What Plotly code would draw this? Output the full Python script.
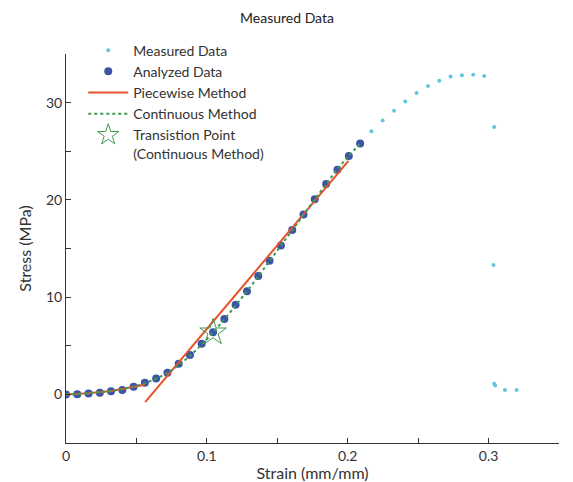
import plotly.graph_objects as go

# Measured data (strain, stress)
measured_strain = [0.0, 0.008, 0.016, 0.024, 0.032, 0.040, 0.048, 0.056, 0.064, 0.072,
                   0.080, 0.088, 0.0963, 0.1044, 0.1124, 0.1204, 0.1285, 0.1365, 0.1445,
                   0.1526, 0.1606, 0.1686, 0.1766, 0.1847, 0.1927, 0.2008, 0.2088,
                   0.2168, 0.2248, 0.2329, 0.2409, 0.2489, 0.2570, 0.2650, 0.2730,
                   0.2811, 0.2891, 0.2969, 0.3040, 0.3035, 0.3040, 0.3047, 0.3116, 0.3199]
measured_stress = [0.0, 0.02, 0.10, 0.17, 0.31, 0.44, 0.79, 1.20, 1.64, 2.22,
                   3.14, 4.06, 5.20, 6.38, 7.75, 9.21, 10.61, 12.18, 13.75,
                   15.32, 16.89, 18.50, 20.06, 21.63, 23.10, 24.50, 25.80,
                   27.05, 28.15, 29.17, 30.12, 30.98, 31.70, 32.24, 32.68,
                   32.82, 32.86, 32.75, 27.50, 13.30, 1.10, 0.92, 0.44, 0.44]

# Analyzed data
analyzed_strain = measured_strain[:27]
analyzed_stress = measured_stress[:27]

# Piecewise method: toe region and linear region
piece1_strain = [0.0, 0.016, 0.032, 0.048, 0.056]
piece1_stress = [0.0, 0.12, 0.35, 0.72, 0.98]
piece2_strain = [0.0562, 0.2005]
piece2_stress = [-0.80, 24.0]

# Continuous method fit
cont_strain = [0.0, 0.008, 0.016, 0.024, 0.032, 0.040, 0.048, 0.056, 0.064, 0.072,
               0.080, 0.088, 0.0963, 0.1044, 0.1124, 0.1204, 0.1285, 0.1365, 0.1445,
               0.1526, 0.1606, 0.1686, 0.1766, 0.1847, 0.1927, 0.2008, 0.2088]
cont_stress = [0.0, 0.04, 0.12, 0.22, 0.36, 0.54, 0.80, 1.16, 1.62, 2.22,
               3.00, 3.96, 5.12, 6.38, 7.72, 9.14, 10.60, 12.14, 13.72,
               15.30, 16.88, 18.46, 20.04, 21.62, 23.18, 24.52, 25.80]

# Transition point
trans_strain = [0.1044]
trans_stress = [6.38]

font_family = "Lato, 'Open Sans', sans-serif"
txt_color = "#333333"

fig = go.Figure()
fig.add_trace(go.Scatter(x=measured_strain, y=measured_stress, mode="markers",
                         name="Measured Data",
                         marker=dict(color="#62c6df", size=4)))
fig.add_trace(go.Scatter(x=analyzed_strain, y=analyzed_stress, mode="markers",
                         name="Analyzed Data",
                         marker=dict(color="#3a55a8", size=8)))
fig.add_trace(go.Scatter(x=piece1_strain, y=piece1_stress, mode="lines",
                         name="Piecewise Method", legendgroup="pw",
                         line=dict(color="#e8532b", width=2)))
fig.add_trace(go.Scatter(x=piece2_strain, y=piece2_stress, mode="lines",
                         name="Piecewise Method", legendgroup="pw", showlegend=False,
                         line=dict(color="#e8532b", width=2)))
fig.add_trace(go.Scatter(x=cont_strain, y=cont_stress, mode="lines",
                         name="Continuous Method",
                         line=dict(color="#3f9a4f", width=2, dash="dot", shape="spline")))
fig.add_trace(go.Scatter(x=trans_strain, y=trans_stress, mode="markers",
                         name="Transistion Point<br>(Continuous Method)",
                         marker=dict(symbol="star-open", size=20,
                                     color="#3f9a4f", line=dict(width=1, color="#3f9a4f"))))

xt = [0, 0.05, 0.1, 0.15, 0.2, 0.25, 0.3, 0.35]
xt_text = ["0", "", "0.1", "", "0.2", "", "0.3", ""]
yt = [-5, 0, 5, 10, 15, 20, 25, 30, 35]
yt_text = ["", "0", "", "10", "", "20", "", "30", ""]

# page body has an 8px margin: figure is 565x474 so that the plot area
# lands at x 66..559, y 54..443 in the 573x482 window
fig.update_layout(
    width=565, height=474,
    margin=dict(l=58, r=14, t=46, b=39, autoexpand=False),
    paper_bgcolor="white", plot_bgcolor="white",
    font=dict(family=font_family, size=14, color=txt_color),
    title=dict(text="Measured Data", x=(287 - 8) / 565, xanchor="center",
               y=1 - 10 / 474, yanchor="middle",
               font=dict(size=14, color="#222222"), automargin=False),
    showlegend=True,
    legend=dict(x=0.035, y=1.05, xanchor="left", yanchor="top",
                bgcolor="rgba(0,0,0,0)", font=dict(size=14, color=txt_color),
                valign="top", tracegroupgap=0, itemwidth=40),
    xaxis=dict(range=[0, 0.35], tickvals=xt, ticktext=xt_text, ticks="inside",
               ticklen=5, tickcolor="#333333", showline=True, linecolor="#333333",
               linewidth=1, showgrid=False, zeroline=False, automargin=False,
               tickfont=dict(size=14),
               title=dict(text="Strain (mm/mm)", standoff=2, font=dict(size=16))),
    yaxis=dict(range=[-5, 35], tickvals=yt, ticktext=yt_text, ticks="inside",
               ticklen=5, tickcolor="#333333", showline=True, linecolor="#333333",
               linewidth=1, showgrid=False, zeroline=False, automargin=False,
               tickfont=dict(size=14),
               title=dict(text="Stress (MPa)", standoff=10, font=dict(size=16))),
)

fig.write_html("out.html")
